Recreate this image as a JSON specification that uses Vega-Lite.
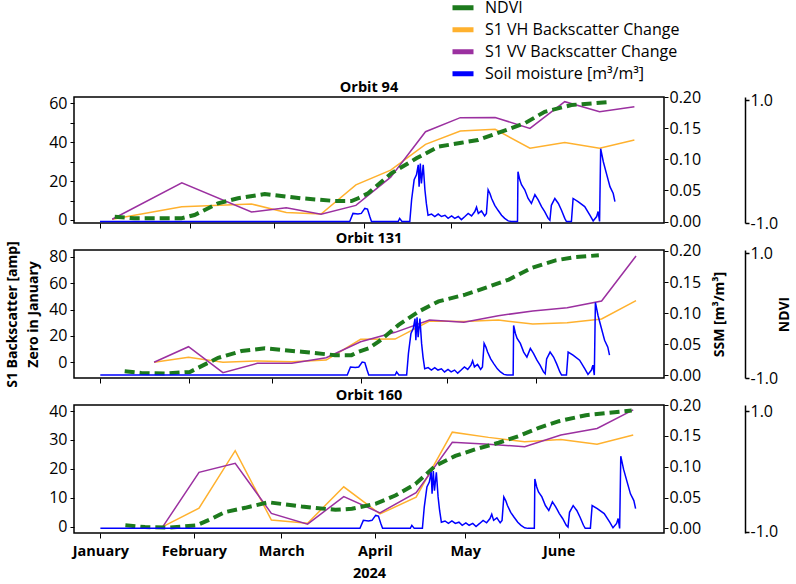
{
  "$schema": "https://vega.github.io/schema/vega-lite/v6.json",
  "background": "white",
  "padding": {"left": 4, "top": -3, "right": 0, "bottom": 0},
  "spacing": 27,
  "bounds": "flush",
  "config": {
    "view": {"stroke": "black", "strokeWidth": 1.5},
    "axis": {"grid": false, "domain": false, "tickColor": "black", "tickWidth": 1, "labelColor": "black", "labelFont": "Open Sans", "labelFontSize": 16, "titleColor": "black", "tickSize": 4}
  },
  "resolve": {"scale": {"x": "independent"}},
  "datasets": {
    "bs": [
      {"orbit": "Orbit 94", "date": "2024-01-05T05:00", "series": "S1 VH Backscatter Change", "value": 0.4},
      {"orbit": "Orbit 94", "date": "2024-01-29T05:00", "series": "S1 VH Backscatter Change", "value": 6.8},
      {"orbit": "Orbit 94", "date": "2024-02-22T05:00", "series": "S1 VH Backscatter Change", "value": 8.2},
      {"orbit": "Orbit 94", "date": "2024-03-05T05:00", "series": "S1 VH Backscatter Change", "value": 3.8},
      {"orbit": "Orbit 94", "date": "2024-03-17T05:00", "series": "S1 VH Backscatter Change", "value": 3.1},
      {"orbit": "Orbit 94", "date": "2024-03-29T05:00", "series": "S1 VH Backscatter Change", "value": 18},
      {"orbit": "Orbit 94", "date": "2024-04-10T05:00", "series": "S1 VH Backscatter Change", "value": 25.6},
      {"orbit": "Orbit 94", "date": "2024-04-22T05:00", "series": "S1 VH Backscatter Change", "value": 38.8},
      {"orbit": "Orbit 94", "date": "2024-05-04T05:00", "series": "S1 VH Backscatter Change", "value": 45.6},
      {"orbit": "Orbit 94", "date": "2024-05-16T05:00", "series": "S1 VH Backscatter Change", "value": 46.5},
      {"orbit": "Orbit 94", "date": "2024-05-28T05:00", "series": "S1 VH Backscatter Change", "value": 36.8},
      {"orbit": "Orbit 94", "date": "2024-06-09T05:00", "series": "S1 VH Backscatter Change", "value": 39.7},
      {"orbit": "Orbit 94", "date": "2024-06-21T05:00", "series": "S1 VH Backscatter Change", "value": 36.8},
      {"orbit": "Orbit 94", "date": "2024-07-03T05:00", "series": "S1 VH Backscatter Change", "value": 41},
      {"orbit": "Orbit 94", "date": "2024-01-05T05:00", "series": "S1 VV Backscatter Change", "value": 0.4},
      {"orbit": "Orbit 94", "date": "2024-01-29T05:00", "series": "S1 VV Backscatter Change", "value": 19.1},
      {"orbit": "Orbit 94", "date": "2024-02-22T05:00", "series": "S1 VV Backscatter Change", "value": 4.1},
      {"orbit": "Orbit 94", "date": "2024-03-05T05:00", "series": "S1 VV Backscatter Change", "value": 6.3},
      {"orbit": "Orbit 94", "date": "2024-03-17T05:00", "series": "S1 VV Backscatter Change", "value": 2.9},
      {"orbit": "Orbit 94", "date": "2024-03-29T05:00", "series": "S1 VV Backscatter Change", "value": 7.5},
      {"orbit": "Orbit 94", "date": "2024-04-10T05:00", "series": "S1 VV Backscatter Change", "value": 22},
      {"orbit": "Orbit 94", "date": "2024-04-22T05:00", "series": "S1 VV Backscatter Change", "value": 45.3},
      {"orbit": "Orbit 94", "date": "2024-05-04T05:00", "series": "S1 VV Backscatter Change", "value": 52.5},
      {"orbit": "Orbit 94", "date": "2024-05-16T05:00", "series": "S1 VV Backscatter Change", "value": 52.6},
      {"orbit": "Orbit 94", "date": "2024-05-28T05:00", "series": "S1 VV Backscatter Change", "value": 47},
      {"orbit": "Orbit 94", "date": "2024-06-09T05:00", "series": "S1 VV Backscatter Change", "value": 60.7},
      {"orbit": "Orbit 94", "date": "2024-06-21T05:00", "series": "S1 VV Backscatter Change", "value": 55.5},
      {"orbit": "Orbit 94", "date": "2024-07-03T05:00", "series": "S1 VV Backscatter Change", "value": 58.1},
      {"orbit": "Orbit 131", "date": "2024-01-19T18:00", "series": "S1 VH Backscatter Change", "value": 0},
      {"orbit": "Orbit 131", "date": "2024-01-31T18:00", "series": "S1 VH Backscatter Change", "value": 3.8},
      {"orbit": "Orbit 131", "date": "2024-02-12T18:00", "series": "S1 VH Backscatter Change", "value": 0},
      {"orbit": "Orbit 131", "date": "2024-02-24T18:00", "series": "S1 VH Backscatter Change", "value": 1},
      {"orbit": "Orbit 131", "date": "2024-03-07T18:00", "series": "S1 VH Backscatter Change", "value": 0.5},
      {"orbit": "Orbit 131", "date": "2024-03-19T18:00", "series": "S1 VH Backscatter Change", "value": 1.7},
      {"orbit": "Orbit 131", "date": "2024-03-31T18:00", "series": "S1 VH Backscatter Change", "value": 17.4},
      {"orbit": "Orbit 131", "date": "2024-04-12T18:00", "series": "S1 VH Backscatter Change", "value": 17.6},
      {"orbit": "Orbit 131", "date": "2024-04-24T18:00", "series": "S1 VH Backscatter Change", "value": 31.3},
      {"orbit": "Orbit 131", "date": "2024-05-06T18:00", "series": "S1 VH Backscatter Change", "value": 31},
      {"orbit": "Orbit 131", "date": "2024-05-18T18:00", "series": "S1 VH Backscatter Change", "value": 32},
      {"orbit": "Orbit 131", "date": "2024-05-30T18:00", "series": "S1 VH Backscatter Change", "value": 29},
      {"orbit": "Orbit 131", "date": "2024-06-11T18:00", "series": "S1 VH Backscatter Change", "value": 30},
      {"orbit": "Orbit 131", "date": "2024-06-23T18:00", "series": "S1 VH Backscatter Change", "value": 32.8},
      {"orbit": "Orbit 131", "date": "2024-07-05T18:00", "series": "S1 VH Backscatter Change", "value": 46.7},
      {"orbit": "Orbit 131", "date": "2024-01-19T18:00", "series": "S1 VV Backscatter Change", "value": 0},
      {"orbit": "Orbit 131", "date": "2024-01-31T18:00", "series": "S1 VV Backscatter Change", "value": 11.8},
      {"orbit": "Orbit 131", "date": "2024-02-12T18:00", "series": "S1 VV Backscatter Change", "value": -7.9},
      {"orbit": "Orbit 131", "date": "2024-02-24T18:00", "series": "S1 VV Backscatter Change", "value": -0.8},
      {"orbit": "Orbit 131", "date": "2024-03-07T18:00", "series": "S1 VV Backscatter Change", "value": -0.8},
      {"orbit": "Orbit 131", "date": "2024-03-19T18:00", "series": "S1 VV Backscatter Change", "value": 3.5},
      {"orbit": "Orbit 131", "date": "2024-03-31T18:00", "series": "S1 VV Backscatter Change", "value": 15.6},
      {"orbit": "Orbit 131", "date": "2024-04-12T18:00", "series": "S1 VV Backscatter Change", "value": 22.7},
      {"orbit": "Orbit 131", "date": "2024-04-24T18:00", "series": "S1 VV Backscatter Change", "value": 32},
      {"orbit": "Orbit 131", "date": "2024-05-06T18:00", "series": "S1 VV Backscatter Change", "value": 30.3},
      {"orbit": "Orbit 131", "date": "2024-05-18T18:00", "series": "S1 VV Backscatter Change", "value": 35.3},
      {"orbit": "Orbit 131", "date": "2024-05-30T18:00", "series": "S1 VV Backscatter Change", "value": 38.9},
      {"orbit": "Orbit 131", "date": "2024-06-11T18:00", "series": "S1 VV Backscatter Change", "value": 41.4},
      {"orbit": "Orbit 131", "date": "2024-06-23T18:00", "series": "S1 VV Backscatter Change", "value": 46.4},
      {"orbit": "Orbit 131", "date": "2024-07-05T18:00", "series": "S1 VV Backscatter Change", "value": 80.5},
      {"orbit": "Orbit 160", "date": "2024-01-21T17:00", "series": "S1 VH Backscatter Change", "value": 0},
      {"orbit": "Orbit 160", "date": "2024-02-02T17:00", "series": "S1 VH Backscatter Change", "value": 6.4},
      {"orbit": "Orbit 160", "date": "2024-02-14T17:00", "series": "S1 VH Backscatter Change", "value": 26.3},
      {"orbit": "Orbit 160", "date": "2024-02-26T17:00", "series": "S1 VH Backscatter Change", "value": 2.3},
      {"orbit": "Orbit 160", "date": "2024-03-09T17:00", "series": "S1 VH Backscatter Change", "value": 1.2},
      {"orbit": "Orbit 160", "date": "2024-03-21T17:00", "series": "S1 VH Backscatter Change", "value": 13.8},
      {"orbit": "Orbit 160", "date": "2024-04-02T17:00", "series": "S1 VH Backscatter Change", "value": 4.4},
      {"orbit": "Orbit 160", "date": "2024-04-14T17:00", "series": "S1 VH Backscatter Change", "value": 10.2},
      {"orbit": "Orbit 160", "date": "2024-04-26T17:00", "series": "S1 VH Backscatter Change", "value": 32.7},
      {"orbit": "Orbit 160", "date": "2024-05-08T17:00", "series": "S1 VH Backscatter Change", "value": 30.9},
      {"orbit": "Orbit 160", "date": "2024-05-20T17:00", "series": "S1 VH Backscatter Change", "value": 29.4},
      {"orbit": "Orbit 160", "date": "2024-06-01T17:00", "series": "S1 VH Backscatter Change", "value": 30.2},
      {"orbit": "Orbit 160", "date": "2024-06-13T17:00", "series": "S1 VH Backscatter Change", "value": 28.5},
      {"orbit": "Orbit 160", "date": "2024-06-25T17:00", "series": "S1 VH Backscatter Change", "value": 31.7},
      {"orbit": "Orbit 160", "date": "2024-01-21T17:00", "series": "S1 VV Backscatter Change", "value": 0},
      {"orbit": "Orbit 160", "date": "2024-02-02T17:00", "series": "S1 VV Backscatter Change", "value": 18.8},
      {"orbit": "Orbit 160", "date": "2024-02-14T17:00", "series": "S1 VV Backscatter Change", "value": 21.9},
      {"orbit": "Orbit 160", "date": "2024-02-26T17:00", "series": "S1 VV Backscatter Change", "value": 4.6},
      {"orbit": "Orbit 160", "date": "2024-03-09T17:00", "series": "S1 VV Backscatter Change", "value": 0.9},
      {"orbit": "Orbit 160", "date": "2024-03-21T17:00", "series": "S1 VV Backscatter Change", "value": 10.4},
      {"orbit": "Orbit 160", "date": "2024-04-02T17:00", "series": "S1 VV Backscatter Change", "value": 4.8},
      {"orbit": "Orbit 160", "date": "2024-04-14T17:00", "series": "S1 VV Backscatter Change", "value": 11.8},
      {"orbit": "Orbit 160", "date": "2024-04-26T17:00", "series": "S1 VV Backscatter Change", "value": 29.2},
      {"orbit": "Orbit 160", "date": "2024-05-08T17:00", "series": "S1 VV Backscatter Change", "value": 28.5},
      {"orbit": "Orbit 160", "date": "2024-05-20T17:00", "series": "S1 VV Backscatter Change", "value": 27.7},
      {"orbit": "Orbit 160", "date": "2024-06-01T17:00", "series": "S1 VV Backscatter Change", "value": 31.7},
      {"orbit": "Orbit 160", "date": "2024-06-13T17:00", "series": "S1 VV Backscatter Change", "value": 34},
      {"orbit": "Orbit 160", "date": "2024-06-25T17:00", "series": "S1 VV Backscatter Change", "value": 40.4}
    ],
    "ndvi": [
      {"orbit": "Orbit 94", "date": "2024-01-06T02:00", "ndvi": -0.898},
      {"orbit": "Orbit 94", "date": "2024-01-13T00:00", "ndvi": -0.924},
      {"orbit": "Orbit 94", "date": "2024-01-29T00:00", "ndvi": -0.924},
      {"orbit": "Orbit 94", "date": "2024-02-02T14:00", "ndvi": -0.87},
      {"orbit": "Orbit 94", "date": "2024-02-10T17:00", "ndvi": -0.68},
      {"orbit": "Orbit 94", "date": "2024-02-17T14:00", "ndvi": -0.598},
      {"orbit": "Orbit 94", "date": "2024-02-26T19:00", "ndvi": -0.528},
      {"orbit": "Orbit 94", "date": "2024-03-10T10:00", "ndvi": -0.598},
      {"orbit": "Orbit 94", "date": "2024-03-21T22:00", "ndvi": -0.642},
      {"orbit": "Orbit 94", "date": "2024-03-27T17:00", "ndvi": -0.642},
      {"orbit": "Orbit 94", "date": "2024-03-30T00:00", "ndvi": -0.598},
      {"orbit": "Orbit 94", "date": "2024-04-02T10:00", "ndvi": -0.517},
      {"orbit": "Orbit 94", "date": "2024-04-10T10:00", "ndvi": -0.192},
      {"orbit": "Orbit 94", "date": "2024-04-19T02:00", "ndvi": 0.052},
      {"orbit": "Orbit 94", "date": "2024-04-26T14:00", "ndvi": 0.241},
      {"orbit": "Orbit 94", "date": "2024-05-04T14:00", "ndvi": 0.306},
      {"orbit": "Orbit 94", "date": "2024-05-10T07:00", "ndvi": 0.35},
      {"orbit": "Orbit 94", "date": "2024-05-18T10:00", "ndvi": 0.485},
      {"orbit": "Orbit 94", "date": "2024-05-26T10:00", "ndvi": 0.622},
      {"orbit": "Orbit 94", "date": "2024-06-02T07:00", "ndvi": 0.81},
      {"orbit": "Orbit 94", "date": "2024-06-11T12:00", "ndvi": 0.919},
      {"orbit": "Orbit 94", "date": "2024-06-25T07:00", "ndvi": 0.972},
      {"orbit": "Orbit 131", "date": "2024-01-09T12:00", "ndvi": -0.892},
      {"orbit": "Orbit 131", "date": "2024-01-15T07:00", "ndvi": -0.919},
      {"orbit": "Orbit 131", "date": "2024-01-23T12:00", "ndvi": -0.929},
      {"orbit": "Orbit 131", "date": "2024-02-01T05:00", "ndvi": -0.903},
      {"orbit": "Orbit 131", "date": "2024-02-11T02:00", "ndvi": -0.677},
      {"orbit": "Orbit 131", "date": "2024-02-19T05:00", "ndvi": -0.569},
      {"orbit": "Orbit 131", "date": "2024-02-27T10:00", "ndvi": -0.525},
      {"orbit": "Orbit 131", "date": "2024-03-11T05:00", "ndvi": -0.58},
      {"orbit": "Orbit 131", "date": "2024-03-22T19:00", "ndvi": -0.634},
      {"orbit": "Orbit 131", "date": "2024-03-28T14:00", "ndvi": -0.634},
      {"orbit": "Orbit 131", "date": "2024-03-31T00:00", "ndvi": -0.58},
      {"orbit": "Orbit 131", "date": "2024-04-03T12:00", "ndvi": -0.525},
      {"orbit": "Orbit 131", "date": "2024-04-07T00:00", "ndvi": -0.419},
      {"orbit": "Orbit 131", "date": "2024-04-14T00:00", "ndvi": -0.149},
      {"orbit": "Orbit 131", "date": "2024-04-21T00:00", "ndvi": 0.065},
      {"orbit": "Orbit 131", "date": "2024-04-27T22:00", "ndvi": 0.227},
      {"orbit": "Orbit 131", "date": "2024-05-07T05:00", "ndvi": 0.335},
      {"orbit": "Orbit 131", "date": "2024-05-14T05:00", "ndvi": 0.443},
      {"orbit": "Orbit 131", "date": "2024-05-22T10:00", "ndvi": 0.577},
      {"orbit": "Orbit 131", "date": "2024-05-30T12:00", "ndvi": 0.766},
      {"orbit": "Orbit 131", "date": "2024-06-07T17:00", "ndvi": 0.884},
      {"orbit": "Orbit 131", "date": "2024-06-14T14:00", "ndvi": 0.937},
      {"orbit": "Orbit 131", "date": "2024-06-22T19:00", "ndvi": 0.965},
      {"orbit": "Orbit 160", "date": "2024-01-09T07:00", "ndvi": -0.893},
      {"orbit": "Orbit 160", "date": "2024-01-15T19:00", "ndvi": -0.921},
      {"orbit": "Orbit 160", "date": "2024-01-23T12:00", "ndvi": -0.931},
      {"orbit": "Orbit 160", "date": "2024-02-01T22:00", "ndvi": -0.893},
      {"orbit": "Orbit 160", "date": "2024-02-06T22:00", "ndvi": -0.783},
      {"orbit": "Orbit 160", "date": "2024-02-11T07:00", "ndvi": -0.675},
      {"orbit": "Orbit 160", "date": "2024-02-18T00:00", "ndvi": -0.603},
      {"orbit": "Orbit 160", "date": "2024-02-25T17:00", "ndvi": -0.511},
      {"orbit": "Orbit 160", "date": "2024-03-07T19:00", "ndvi": -0.581},
      {"orbit": "Orbit 160", "date": "2024-03-18T22:00", "ndvi": -0.636},
      {"orbit": "Orbit 160", "date": "2024-03-24T10:00", "ndvi": -0.619},
      {"orbit": "Orbit 160", "date": "2024-04-01T05:00", "ndvi": -0.537},
      {"orbit": "Orbit 160", "date": "2024-04-07T19:00", "ndvi": -0.4},
      {"orbit": "Orbit 160", "date": "2024-04-14T12:00", "ndvi": -0.208},
      {"orbit": "Orbit 160", "date": "2024-04-21T02:00", "ndvi": 0.093},
      {"orbit": "Orbit 160", "date": "2024-04-27T17:00", "ndvi": 0.257},
      {"orbit": "Orbit 160", "date": "2024-05-04T10:00", "ndvi": 0.367},
      {"orbit": "Orbit 160", "date": "2024-05-12T02:00", "ndvi": 0.475},
      {"orbit": "Orbit 160", "date": "2024-05-18T19:00", "ndvi": 0.586},
      {"orbit": "Orbit 160", "date": "2024-05-25T10:00", "ndvi": 0.722},
      {"orbit": "Orbit 160", "date": "2024-06-01T02:00", "ndvi": 0.832},
      {"orbit": "Orbit 160", "date": "2024-06-10T00:00", "ndvi": 0.931},
      {"orbit": "Orbit 160", "date": "2024-06-17T17:00", "ndvi": 0.969},
      {"orbit": "Orbit 160", "date": "2024-06-25T05:00", "ndvi": 1.008}
    ],
    "ssm": [
      {"date": "2024-01-01T00:00", "ssm": 0},
      {"date": "2024-03-27T02:00", "ssm": 0},
      {"date": "2024-03-28T05:00", "ssm": 0.013},
      {"date": "2024-03-29T22:00", "ssm": 0.012},
      {"date": "2024-03-31T02:00", "ssm": 0.013},
      {"date": "2024-04-01T07:00", "ssm": 0.021},
      {"date": "2024-04-02T05:00", "ssm": 0.02},
      {"date": "2024-04-03T00:00", "ssm": 0.008},
      {"date": "2024-04-03T14:00", "ssm": 0},
      {"date": "2024-04-12T19:00", "ssm": 0},
      {"date": "2024-04-13T07:00", "ssm": 0.005},
      {"date": "2024-04-14T02:00", "ssm": 0},
      {"date": "2024-04-16T19:00", "ssm": 0},
      {"date": "2024-04-17T10:00", "ssm": 0.035},
      {"date": "2024-04-18T07:00", "ssm": 0.067},
      {"date": "2024-04-19T02:00", "ssm": 0.075},
      {"date": "2024-04-19T17:00", "ssm": 0.091},
      {"date": "2024-04-20T00:00", "ssm": 0.056},
      {"date": "2024-04-20T10:00", "ssm": 0.093},
      {"date": "2024-04-20T19:00", "ssm": 0.061},
      {"date": "2024-04-21T10:00", "ssm": 0.091},
      {"date": "2024-04-22T00:00", "ssm": 0.051},
      {"date": "2024-04-22T12:00", "ssm": 0.029},
      {"date": "2024-04-23T02:00", "ssm": 0.01},
      {"date": "2024-04-24T07:00", "ssm": 0.012},
      {"date": "2024-04-25T10:00", "ssm": 0.008},
      {"date": "2024-04-26T14:00", "ssm": 0.012},
      {"date": "2024-04-27T17:00", "ssm": 0.008},
      {"date": "2024-04-28T22:00", "ssm": 0.01},
      {"date": "2024-04-30T00:00", "ssm": 0.005},
      {"date": "2024-05-01T05:00", "ssm": 0.009},
      {"date": "2024-05-02T07:00", "ssm": 0.005},
      {"date": "2024-05-03T12:00", "ssm": 0.008},
      {"date": "2024-05-04T14:00", "ssm": 0.003},
      {"date": "2024-05-05T19:00", "ssm": 0.008},
      {"date": "2024-05-06T22:00", "ssm": 0.013},
      {"date": "2024-05-08T02:00", "ssm": 0.009},
      {"date": "2024-05-09T05:00", "ssm": 0.016},
      {"date": "2024-05-09T19:00", "ssm": 0.023},
      {"date": "2024-05-10T10:00", "ssm": 0.013},
      {"date": "2024-05-11T12:00", "ssm": 0.017},
      {"date": "2024-05-12T14:00", "ssm": 0.009},
      {"date": "2024-05-13T05:00", "ssm": 0.013},
      {"date": "2024-05-13T19:00", "ssm": 0.051},
      {"date": "2024-05-14T10:00", "ssm": 0.045},
      {"date": "2024-05-15T00:00", "ssm": 0.037},
      {"date": "2024-05-16T02:00", "ssm": 0.026},
      {"date": "2024-05-17T05:00", "ssm": 0.018},
      {"date": "2024-05-18T10:00", "ssm": 0.01},
      {"date": "2024-05-19T12:00", "ssm": 0.005},
      {"date": "2024-05-20T17:00", "ssm": 0.001},
      {"date": "2024-05-21T19:00", "ssm": 0},
      {"date": "2024-05-23T22:00", "ssm": 0},
      {"date": "2024-05-24T02:00", "ssm": 0.08},
      {"date": "2024-05-24T17:00", "ssm": 0.067},
      {"date": "2024-05-25T07:00", "ssm": 0.059},
      {"date": "2024-05-26T10:00", "ssm": 0.051},
      {"date": "2024-05-27T14:00", "ssm": 0.037},
      {"date": "2024-05-28T17:00", "ssm": 0.029},
      {"date": "2024-05-29T22:00", "ssm": 0.043},
      {"date": "2024-05-31T00:00", "ssm": 0.035},
      {"date": "2024-06-01T05:00", "ssm": 0.024},
      {"date": "2024-06-02T07:00", "ssm": 0.016},
      {"date": "2024-06-03T12:00", "ssm": 0.005},
      {"date": "2024-06-04T02:00", "ssm": 0.002},
      {"date": "2024-06-04T14:00", "ssm": 0.026},
      {"date": "2024-06-05T19:00", "ssm": 0.037},
      {"date": "2024-06-07T00:00", "ssm": 0.029},
      {"date": "2024-06-08T02:00", "ssm": 0.018},
      {"date": "2024-06-09T05:00", "ssm": 0.005},
      {"date": "2024-06-09T19:00", "ssm": 0},
      {"date": "2024-06-11T12:00", "ssm": 0},
      {"date": "2024-06-12T02:00", "ssm": 0.037},
      {"date": "2024-06-13T19:00", "ssm": 0.032},
      {"date": "2024-06-16T02:00", "ssm": 0.024},
      {"date": "2024-06-17T22:00", "ssm": 0.01},
      {"date": "2024-06-19T00:00", "ssm": 0.001},
      {"date": "2024-06-20T05:00", "ssm": 0.008},
      {"date": "2024-06-20T17:00", "ssm": 0.016},
      {"date": "2024-06-21T05:00", "ssm": 0},
      {"date": "2024-06-21T14:00", "ssm": 0.117},
      {"date": "2024-06-22T12:00", "ssm": 0.096},
      {"date": "2024-06-23T14:00", "ssm": 0.077},
      {"date": "2024-06-24T19:00", "ssm": 0.056},
      {"date": "2024-06-25T22:00", "ssm": 0.045},
      {"date": "2024-06-26T12:00", "ssm": 0.032}
    ]
  },
  "vconcat": [
    {
      "width": 590, "height": 126,
      "title": {"text": "Orbit 94", "font": "Open Sans", "fontSize": 14.5, "fontWeight": "bold", "color": "black", "offset": -6},
      "encoding": {
        "x": {"field": "date", "type": "temporal",
          "scale": {"domain": [{"year": 2023, "month": 12, "date": 23, "hours": 1}, {"year": 2024, "month": 7, "date": 13, "hours": 10}], "nice": false},
          "axis": {"values": [{"year": 2024, "month": 1, "date": 1}, {"year": 2024, "month": 2, "date": 1}, {"year": 2024, "month": 3, "date": 1}, {"year": 2024, "month": 4, "date": 1}, {"year": 2024, "month": 5, "date": 1}, {"year": 2024, "month": 6, "date": 1}], "labels": false, "title": null, "tickSize": 5}}
      },
      "resolve": {"scale": {"y": "independent"}},
      "layer": [
        {
          "data": {"name": "bs"},
          "transform": [{"filter": "datum.orbit === 'Orbit 94'"}],
          "mark": {"type": "line", "strokeWidth": 1.5},
          "encoding": {
            "y": {"field": "value", "type": "quantitative", "scale": {"domain": [-1.54, 63.1], "nice": false, "zero": false},
              "axis": {"orient": "left", "values": [0, 10, 20, 30, 40, 50, 60], "labelExpr": "datum.value % 20 === 0 ? datum.label : ''", "title": null, "labelPadding": 3}},
            "color": {"field": "series", "type": "nominal",
              "scale": {"domain": ["NDVI", "S1 VH Backscatter Change", "S1 VV Backscatter Change", "Soil moisture [m³/m³]"], "range": ["#1d7a1d", "#ffb12e", "#9b30a0", "#0000ff"]},
              "legend": {"orient": "none", "legendX": 376, "legendY": -100, "title": null, "symbolType": "stroke", "symbolStrokeWidth": 5, "symbolSize": 441, "labelFont": "Open Sans", "labelFontSize": 16, "labelColor": "black", "labelOffset": 9, "labelLimit": 0, "clipHeight": 21.5, "rowPadding": 0, "padding": 0}}
          }
        },
        {
          "data": {"name": "ndvi"},
          "transform": [{"filter": "datum.orbit === 'Orbit 94'"}],
          "mark": {"type": "line", "strokeWidth": 4, "strokeDash": [10, 5]},
          "encoding": {
            "y": {"field": "ndvi", "type": "quantitative", "scale": {"domain": [-1, 1.05], "nice": false, "zero": false},
              "axis": {"orient": "right", "offset": 81, "values": [-1, 1], "labelExpr": "datum.value < 0 ? '-1.0' : '1.0'", "domain": true, "domainColor": "black", "domainWidth": 1.5, "tickWidth": 1.5, "labelPadding": 1, "title": null}},
            "color": {"datum": "NDVI", "type": "nominal",
              "scale": {"domain": ["NDVI", "S1 VH Backscatter Change", "S1 VV Backscatter Change", "Soil moisture [m³/m³]"], "range": ["#1d7a1d", "#ffb12e", "#9b30a0", "#0000ff"]}}
          }
        },
        {
          "data": {"name": "ssm"},
          "mark": {"type": "line", "strokeWidth": 1.5},
          "encoding": {
            "y": {"field": "ssm", "type": "quantitative", "scale": {"domain": [-0.0024, 0.2], "nice": false, "zero": false},
              "axis": {"orient": "right", "values": [0, 0.05, 0.1, 0.15, 0.2], "format": ".2f", "title": null, "labelPadding": 1}},
            "color": {"datum": "Soil moisture [m³/m³]", "type": "nominal",
              "scale": {"domain": ["NDVI", "S1 VH Backscatter Change", "S1 VV Backscatter Change", "Soil moisture [m³/m³]"], "range": ["#1d7a1d", "#ffb12e", "#9b30a0", "#0000ff"]}}
          }
        }
      ]
    },
    {
      "width": 590, "height": 128,
      "title": {"text": "Orbit 131", "font": "Open Sans", "fontSize": 14.5, "fontWeight": "bold", "color": "black", "offset": -6},
      "encoding": {
        "x": {"field": "date", "type": "temporal",
          "scale": {"domain": [{"year": 2023, "month": 12, "date": 22, "hours": 20}, {"year": 2024, "month": 7, "date": 15, "hours": 12}], "nice": false},
          "axis": {"values": [{"year": 2024, "month": 1, "date": 1}, {"year": 2024, "month": 2, "date": 1}, {"year": 2024, "month": 3, "date": 1}, {"year": 2024, "month": 4, "date": 1}, {"year": 2024, "month": 5, "date": 1}, {"year": 2024, "month": 6, "date": 1}], "labels": false, "title": null, "tickSize": 5}}
      },
      "resolve": {"scale": {"y": "independent"}},
      "layer": [
        {
          "data": {"name": "bs"},
          "transform": [{"filter": "datum.orbit === 'Orbit 131'"}],
          "mark": {"type": "line", "strokeWidth": 1.5},
          "encoding": {
            "y": {"field": "value", "type": "quantitative", "scale": {"domain": [-11.9, 85.1], "nice": false, "zero": false},
              "axis": {"orient": "left", "values": [0, 20, 40, 60, 80], "labelPadding": 3,
                "title": ["S1 Backscatter [amp]", "Zero in January"], "titleFont": "Open Sans", "titleFontSize": 14, "titleFontWeight": "bold", "titleLineHeight": 21.6, "titlePadding": 8}},
            "color": {"field": "series", "type": "nominal",
              "scale": {"domain": ["NDVI", "S1 VH Backscatter Change", "S1 VV Backscatter Change", "Soil moisture [m³/m³]"], "range": ["#1d7a1d", "#ffb12e", "#9b30a0", "#0000ff"]}}
          }
        },
        {
          "data": {"name": "ndvi"},
          "transform": [{"filter": "datum.orbit === 'Orbit 131'"}],
          "mark": {"type": "line", "strokeWidth": 4, "strokeDash": [10, 5]},
          "encoding": {
            "y": {"field": "ndvi", "type": "quantitative", "scale": {"domain": [-1, 1.05], "nice": false, "zero": false},
              "axis": {"orient": "right", "offset": 81, "values": [-1, 1], "labelExpr": "datum.value < 0 ? '-1.0' : '1.0'", "domain": true, "domainColor": "black", "domainWidth": 1.5, "tickWidth": 1.5, "labelPadding": 1,
                "title": "NDVI", "titleFont": "Open Sans", "titleFontSize": 14, "titleFontWeight": "bold", "titleAngle": 270, "titleBaseline": "top", "titlePadding": 0}},
            "color": {"datum": "NDVI", "type": "nominal",
              "scale": {"domain": ["NDVI", "S1 VH Backscatter Change", "S1 VV Backscatter Change", "Soil moisture [m³/m³]"], "range": ["#1d7a1d", "#ffb12e", "#9b30a0", "#0000ff"]}}
          }
        },
        {
          "data": {"name": "ssm"},
          "mark": {"type": "line", "strokeWidth": 1.5},
          "encoding": {
            "y": {"field": "ssm", "type": "quantitative", "scale": {"domain": [-0.0048, 0.2016], "nice": false, "zero": false},
              "axis": {"orient": "right", "values": [0, 0.05, 0.1, 0.15, 0.2], "format": ".2f", "labelPadding": 1,
                "title": "SSM [m³/m³]", "titleFont": "Open Sans", "titleFontSize": 14, "titleFontWeight": "bold", "titleAngle": 270, "titleBaseline": "top", "titlePadding": 12}},
            "color": {"datum": "Soil moisture [m³/m³]", "type": "nominal",
              "scale": {"domain": ["NDVI", "S1 VH Backscatter Change", "S1 VV Backscatter Change", "Soil moisture [m³/m³]"], "range": ["#1d7a1d", "#ffb12e", "#9b30a0", "#0000ff"]}}
          }
        }
      ]
    },
    {
      "width": 590, "height": 128,
      "title": {"text": "Orbit 160", "font": "Open Sans", "fontSize": 14.5, "fontWeight": "bold", "color": "black", "offset": -6},
      "encoding": {
        "x": {"field": "date", "type": "temporal",
          "scale": {"domain": [{"year": 2023, "month": 12, "date": 23, "hours": 6}, {"year": 2024, "month": 7, "date": 5, "hours": 22}], "nice": false},
          "axis": {"values": [{"year": 2024, "month": 1, "date": 1}, {"year": 2024, "month": 2, "date": 1}, {"year": 2024, "month": 3, "date": 1}, {"year": 2024, "month": 4, "date": 1}, {"year": 2024, "month": 5, "date": 1}, {"year": 2024, "month": 6, "date": 1}],
            "format": "%B", "labelFont": "Open Sans", "labelFontSize": 14.5, "labelFontWeight": "bold", "labelPadding": 6, "labelFlush": false, "labelOverlap": false,
            "title": "2024", "titleFont": "Open Sans", "titleFontSize": 14.5, "titleFontWeight": "bold", "titlePadding": 9, "tickSize": 5}}
      },
      "resolve": {"scale": {"y": "independent"}},
      "layer": [
        {
          "data": {"name": "bs"},
          "transform": [{"filter": "datum.orbit === 'Orbit 160'"}],
          "mark": {"type": "line", "strokeWidth": 1.5},
          "encoding": {
            "y": {"field": "value", "type": "quantitative", "scale": {"domain": [-2.18, 42.1], "nice": false, "zero": false},
              "axis": {"orient": "left", "values": [0, 10, 20, 30, 40], "title": null, "labelPadding": 3}},
            "color": {"field": "series", "type": "nominal",
              "scale": {"domain": ["NDVI", "S1 VH Backscatter Change", "S1 VV Backscatter Change", "Soil moisture [m³/m³]"], "range": ["#1d7a1d", "#ffb12e", "#9b30a0", "#0000ff"]}}
          }
        },
        {
          "data": {"name": "ndvi"},
          "transform": [{"filter": "datum.orbit === 'Orbit 160'"}],
          "mark": {"type": "line", "strokeWidth": 4, "strokeDash": [10, 5]},
          "encoding": {
            "y": {"field": "ndvi", "type": "quantitative", "scale": {"domain": [-1.02, 1.1], "nice": false, "zero": false},
              "axis": {"orient": "right", "offset": 81, "values": [-1, 1], "labelExpr": "datum.value < 0 ? '-1.0' : '1.0'", "domain": true, "domainColor": "black", "domainWidth": 1.5, "tickWidth": 1.5, "labelPadding": 1, "title": null}},
            "color": {"datum": "NDVI", "type": "nominal",
              "scale": {"domain": ["NDVI", "S1 VH Backscatter Change", "S1 VV Backscatter Change", "Soil moisture [m³/m³]"], "range": ["#1d7a1d", "#ffb12e", "#9b30a0", "#0000ff"]}}
          }
        },
        {
          "data": {"name": "ssm"},
          "mark": {"type": "line", "strokeWidth": 1.5},
          "encoding": {
            "y": {"field": "ssm", "type": "quantitative", "scale": {"domain": [-0.0075, 0.2], "nice": false, "zero": false},
              "axis": {"orient": "right", "values": [0, 0.05, 0.1, 0.15, 0.2], "format": ".2f", "title": null, "labelPadding": 1}},
            "color": {"datum": "Soil moisture [m³/m³]", "type": "nominal",
              "scale": {"domain": ["NDVI", "S1 VH Backscatter Change", "S1 VV Backscatter Change", "Soil moisture [m³/m³]"], "range": ["#1d7a1d", "#ffb12e", "#9b30a0", "#0000ff"]}}
          }
        }
      ]
    }
  ]
}
